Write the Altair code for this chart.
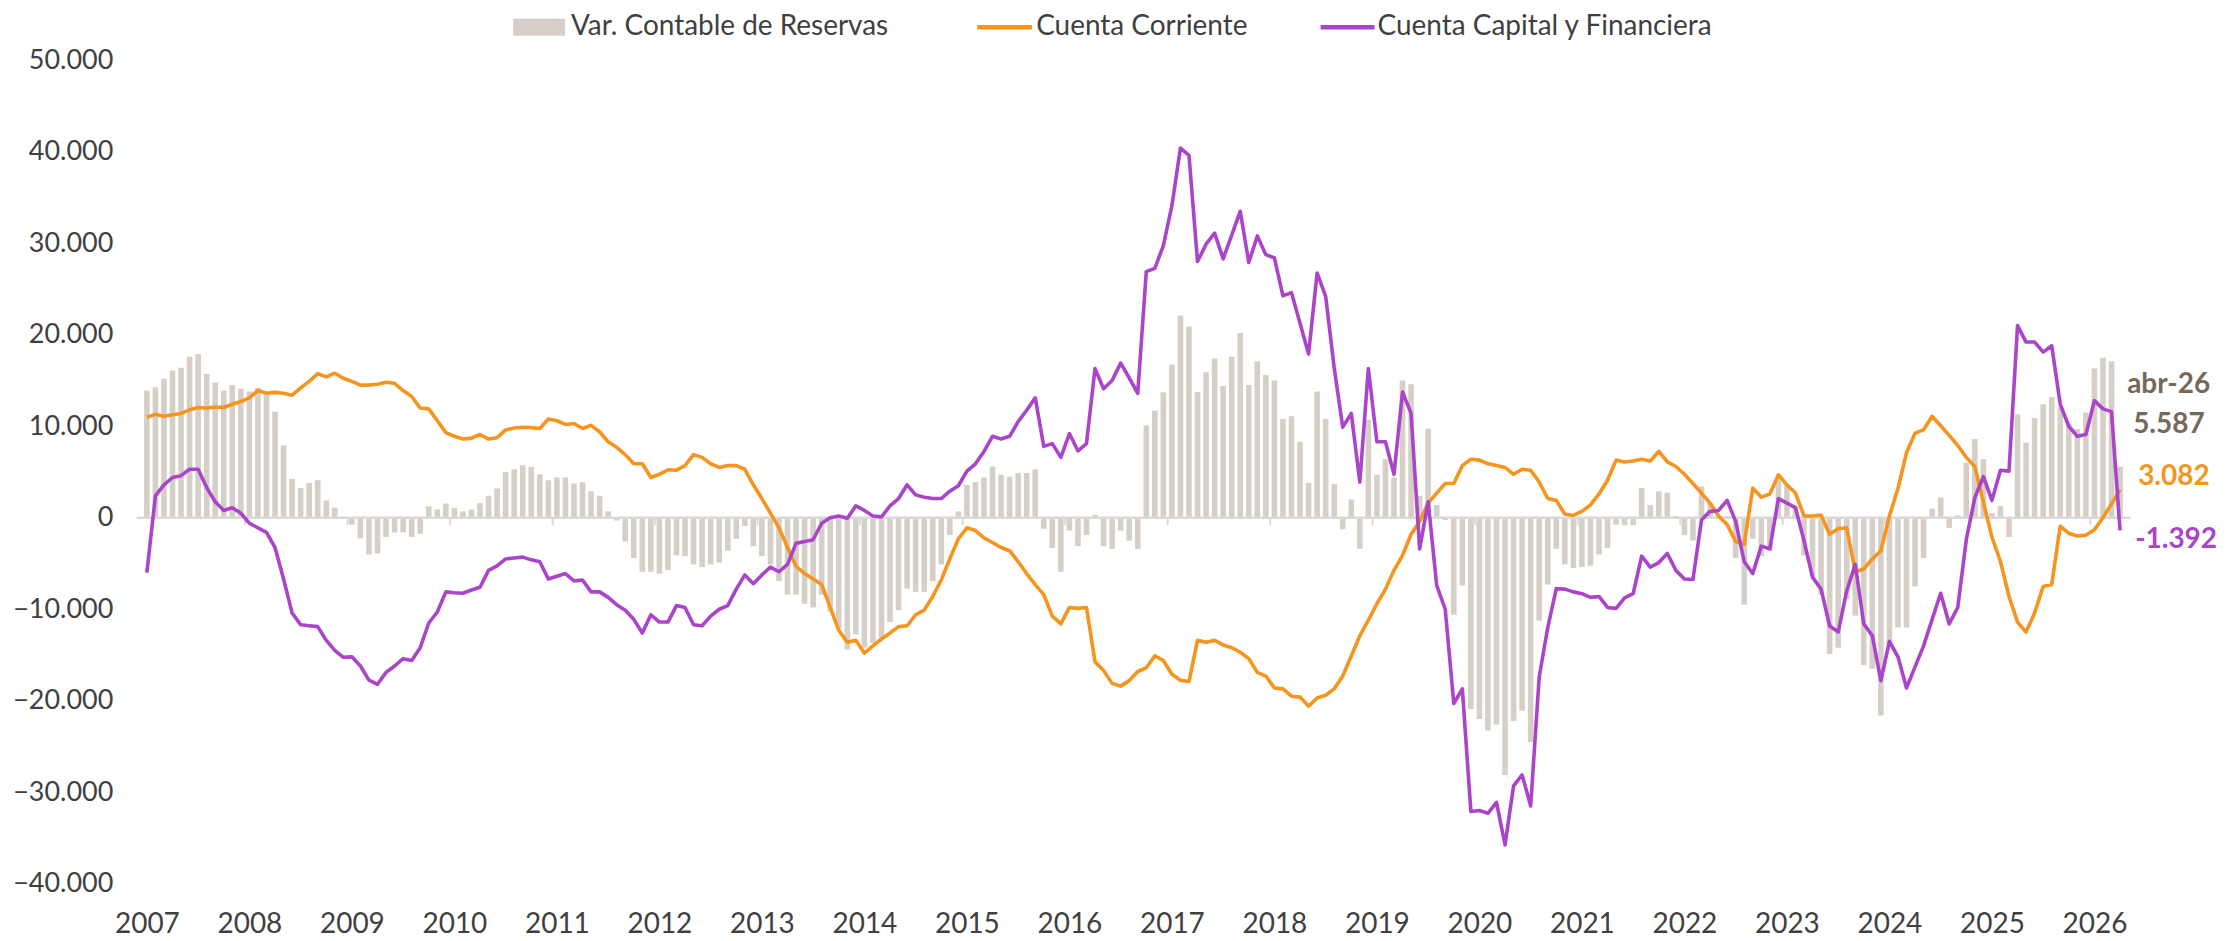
import altair as alt
import pandas as pd

# ---------------- data (USD millions, read in thousands) ----------------
UNIT = 1000
FIRST_YEAR = 2007
LAST_LABEL = "abr-26"
YEARS = list(range(2007, 2027))

SERIES_NAMES = ["Var. Contable de Reservas", "Cuenta Corriente", "Cuenta Capital y Financiera"]

reservas_k = [
    13.9, 14.25, 15.2, 16.1, 16.4, 17.6, 17.9, 15.7, 14.75, 13.9, 14.5, 14.1,
    13.8, 14.2, 13.5, 11.6, 7.9, 4.25, 3.25, 3.8, 4.1, 1.9, 1.1, 0.1,
    -0.75, -2.25, -4.0, -3.9, -2.1, -1.6, -1.6, -2.1, -1.75, 1.25, 0.9, 1.55,
    1.05, 0.7, 0.9, 1.6, 2.4, 3.2, 5.0, 5.3, 5.75, 5.55, 4.75, 4.1,
    4.4, 4.4, 3.75, 3.9, 2.9, 2.4, 0.7, -0.3, -2.6, -4.4, -5.9, -5.9,
    -6.1, -5.7, -4.1, -4.2, -5.1, -5.4, -5.1, -4.9, -3.6, -2.3, -0.9, -3.1,
    -4.2, -5.1, -6.9, -8.4, -8.4, -9.4, -9.8, -8.4, -10.25, -12.1, -14.4, -12.75,
    -14.2, -13.7, -13.1, -11.4, -10.1, -7.75, -8.1, -8.1, -6.9, -5.1, -1.9, 0.7,
    3.6, 3.9, 4.4, 5.6, 4.7, 4.5, 4.9, 4.9, 5.3, -1.2, -3.3, -5.9,
    -1.4, -3.1, -1.9, 0.3, -3.1, -3.4, -1.4, -2.5, -3.4, 10.1, 11.7, 13.7,
    16.75, 22.1, 20.9, 13.75, 15.9, 17.4, 14.4, 17.6, 20.2, 14.5, 17.1, 15.6,
    15.0, 10.8, 11.1, 8.3, 3.8, 13.8, 10.8, 3.7, -1.25, 2.0, -3.4, 10.7,
    4.7, 6.4, 4.4, 15.0, 14.6, 2.4, 9.75, 1.4, -0.25, -10.6, -7.4, -20.9,
    -22.0, -23.25, -22.6, -28.1, -22.2, -21.1, -24.5, -11.25, -7.3, -3.4, -5.1, -5.5,
    -5.4, -5.25, -4.0, -3.3, -0.75, -0.8, -0.8, 3.25, 1.4, 2.9, 2.75, 0.2,
    -1.9, -2.5, 3.4, 1.6, 0.2, 0.2, -4.4, -9.5, -2.3, -4.2, -3.6, 4.25,
    3.6, 1.25, -4.1, -6.4, -8.4, -14.9, -14.2, -8.9, -10.7, -16.1, -16.5, -21.6,
    -13.8, -12.0, -12.0, -7.5, -4.4, 1.0, 2.2, -1.1, 0.25, 6.0, 8.6, 6.4,
    0.5, 1.3, -2.1, 11.3, 8.2, 10.9, 12.4, 13.2, 12.0, 10.3, 9.7, 11.5,
    16.3, 17.5, 17.1, 5.587,
]

cuenta_corriente_k = [
    11.0, 11.3, 11.1, 11.25, 11.4, 11.8, 12.05, 12.0, 12.1, 12.05, 12.4, 12.7,
    13.1, 13.9, 13.6, 13.7, 13.6, 13.4, 14.2, 14.9, 15.75, 15.4, 15.8, 15.25,
    14.9, 14.5, 14.5, 14.6, 14.8, 14.7, 13.9, 13.25, 12.0, 11.9, 10.6, 9.3,
    8.9, 8.6, 8.7, 9.1, 8.6, 8.75, 9.6, 9.8, 9.9, 9.85, 9.75, 10.8,
    10.6, 10.2, 10.3, 9.75, 10.1, 9.4, 8.3, 7.7, 6.9, 5.9, 5.9, 4.4,
    4.75, 5.25, 5.2, 5.7, 6.9, 6.6, 5.9, 5.5, 5.7, 5.7, 5.3, 3.6,
    2.1, 0.5, -1.1, -3.25, -5.3, -6.1, -6.7, -7.3, -9.8, -12.3, -13.6, -13.4,
    -14.8, -14.0, -13.25, -12.6, -11.9, -11.8, -10.6, -10.1, -8.6, -6.8, -4.5, -2.3,
    -1.1, -1.4, -2.2, -2.7, -3.25, -3.6, -4.8, -6.1, -7.3, -8.4, -10.75, -11.6,
    -9.8, -9.9, -9.8, -15.75, -16.7, -18.1, -18.4, -17.8, -16.8, -16.4, -15.1, -15.6,
    -17.1, -17.75, -17.9, -13.4, -13.6, -13.4, -13.9, -14.2, -14.7, -15.4, -16.9, -17.3,
    -18.6, -18.7, -19.5, -19.6, -20.6, -19.7, -19.4, -18.7, -17.3, -15.1, -12.9, -11.2,
    -9.4, -7.8, -5.75, -4.1, -1.8, -0.4, 1.6, 2.7, 3.75, 3.75, 5.7, 6.4,
    6.3, 5.9, 5.7, 5.5, 4.75, 5.3, 5.2, 3.9, 2.1, 1.9, 0.4, 0.25,
    0.7, 1.4, 2.6, 4.1, 6.3, 6.1, 6.2, 6.4, 6.2, 7.25, 6.1, 5.6,
    4.75, 3.75, 2.7, 1.6, 0.2, -0.75, -2.6, -2.9, 3.25, 2.25, 2.6, 4.7,
    3.6, 2.7, 0.2, 0.2, 0.3, -1.8, -1.2, -1.1, -5.9, -5.6, -4.5, -3.6,
    0.2, 3.2, 7.1, 9.25, 9.6, 11.1, 10.05, 9.0, 7.9, 6.6, 5.6, 1.7,
    -2.1, -4.8, -8.6, -11.4, -12.5, -10.4, -7.5, -7.3, -0.9, -1.7, -2.0, -1.9,
    -1.3, 0.0, 1.5, 3.082,
]

cuenta_capital_k = [
    -6.0, 2.4, 3.6, 4.4, 4.6, 5.3, 5.3, 3.3, 1.75, 0.8, 1.1, 0.5,
    -0.6, -1.1, -1.6, -3.25, -6.7, -10.4, -11.7, -11.8, -11.9, -13.4, -14.5, -15.25,
    -15.2, -16.2, -17.75, -18.2, -16.9, -16.2, -15.4, -15.6, -14.2, -11.5, -10.3, -8.1,
    -8.2, -8.25, -7.9, -7.6, -5.75, -5.25, -4.5, -4.4, -4.3, -4.6, -4.8, -6.7,
    -6.4, -6.1, -6.9, -6.8, -8.1, -8.1, -8.7, -9.5, -10.1, -11.1, -12.6, -10.6,
    -11.4, -11.4, -9.6, -9.8, -11.7, -11.8, -10.75, -10.0, -9.6, -7.8, -6.25, -7.2,
    -6.25, -5.4, -5.9, -5.1, -2.8, -2.6, -2.4, -0.6, 0.0, 0.2, -0.05, 1.3,
    0.8, 0.2, 0.1, 1.3, 2.1, 3.6, 2.5, 2.25, 2.1, 2.1, 2.9, 3.5,
    5.1, 5.9, 7.25, 8.9, 8.6, 8.9, 10.5, 11.75, 13.1, 7.8, 8.1, 6.6,
    9.2, 7.3, 8.1, 16.3, 14.1, 15.0, 16.9, 15.3, 13.6, 26.9, 27.25, 29.75,
    34.1, 40.4, 39.6, 28.0, 29.9, 31.1, 28.3, 30.9, 33.5, 27.9, 30.8, 28.75,
    28.4, 24.25, 24.6, 21.25, 17.9, 26.75, 24.2, 16.4, 9.9, 11.4, 3.9, 16.3,
    8.3, 8.3, 4.75, 13.75, 11.4, -3.4, 1.75, -7.4, -10.0, -20.3, -18.7, -32.1,
    -32.0, -32.3, -31.1, -35.75, -29.3, -28.1, -31.5, -17.4, -12.0, -7.75, -7.8, -8.1,
    -8.3, -8.7, -8.6, -9.8, -9.9, -8.75, -8.3, -4.2, -5.4, -4.9, -3.9, -5.75,
    -6.7, -6.75, -0.25, 0.7, 0.8, 1.9, -0.4, -4.8, -6.1, -3.1, -3.4, 2.1,
    1.6, 1.1, -2.5, -6.5, -7.8, -11.8, -12.5, -8.0, -5.1, -11.6, -12.9, -17.8,
    -13.5, -15.2, -18.6, -16.3, -14.0, -11.1, -8.25, -11.6, -9.8, -2.4, 2.2, 4.5,
    1.9, 5.2, 5.1, 21.0, 19.2, 19.2, 18.1, 18.8, 12.4, 10.0, 8.9, 9.1,
    12.8, 11.9, 11.6, -1.392,
]

Y_TICKS = [-40000, -30000, -20000, -10000, 0, 10000, 20000, 30000, 40000, 50000]

# ---------------- styling ----------------
FONT = "Lato"
BAR_COLOR = "#D6CFC7"
ORANGE = "#F7941D"
PURPLE = "#AA44C8"
TEXT_COLOR = "#404040"
LABEL_BROWN = "#74695A"
AXIS_GRAY = "#D9D9D9"

PLOT_W = 1997
PLOT_H = 825

n = len(reservas_k)
df = pd.DataFrame({
    "idx": list(range(n)),
    "reservas": [v * UNIT for v in reservas_k],
    "cc": [v * UNIT for v in cuenta_corriente_k],
    "ccf": [v * UNIT for v in cuenta_capital_k],
})

year_idx = [(y - FIRST_YEAR) * 12 for y in YEARS]
boundaries = pd.DataFrame({"b": [i - 0.5 for i in year_idx[1:]]})

xscale = alt.Scale(domain=[-0.6, n - 1 + 0.6], nice=False, zero=False)
yscale = alt.Scale(domain=[Y_TICKS[0], Y_TICKS[-1]], nice=False)

x_axis = alt.Axis(
    values=year_idx,
    labelExpr=f"'' + ({FIRST_YEAR} + datum.value / 12)",
    title=None, ticks=False, tickSize=0, domain=False, grid=False,
    labelFont=FONT, labelFontSize=28, labelColor=TEXT_COLOR,
    labelPadding=27, labelFlush=False, labelOverlap=False,
)
y_axis = alt.Axis(
    values=Y_TICKS,
    labelExpr="replace(format(datum.value, ',d'), ',', '.')",
    title=None, ticks=False, tickSize=0, domain=False, grid=False,
    labelFont=FONT, labelFontSize=27, labelColor=TEXT_COLOR,
    labelPadding=24, labelFlush=False,
)

X = alt.X("idx:Q", scale=xscale, axis=x_axis)

base = alt.Chart(df)

bars = base.mark_bar(size=5.6, color=BAR_COLOR).encode(
    x=X, y=alt.Y("reservas:Q", scale=yscale, axis=y_axis)
)

zero_line = alt.Chart(pd.DataFrame({"z": [0]})).mark_rule(
    color=AXIS_GRAY, strokeWidth=2.5
).encode(y=alt.Y("z:Q", scale=yscale, axis=y_axis))

year_ticks = alt.Chart(boundaries).mark_rule(color=AXIS_GRAY, strokeWidth=2).encode(
    x=alt.X("b:Q", scale=xscale, axis=x_axis),
    y=alt.datum(0),
    y2=alt.datum(-800),
)

line_cc = base.mark_line(color=ORANGE, strokeWidth=3.6, strokeJoin="round").encode(
    x=X, y=alt.Y("cc:Q", scale=yscale, axis=y_axis)
)
line_ccf = base.mark_line(color=PURPLE, strokeWidth=3.6, strokeJoin="round").encode(
    x=X, y=alt.Y("ccf:Q", scale=yscale, axis=y_axis)
)

# ---------------- legend (top) ----------------
one = pd.DataFrame({"a": [0]})
LEG_Y = -33
leg_rect = alt.Chart(one).mark_rect(color=BAR_COLOR).encode(
    x=alt.value(377), x2=alt.value(429), y=alt.value(LEG_Y - 8.5), y2=alt.value(LEG_Y + 8.5)
)
leg_cc = alt.Chart(one).mark_rule(color=ORANGE, strokeWidth=4.5).encode(
    x=alt.value(842), x2=alt.value(897), y=alt.value(LEG_Y)
)
leg_ccf = alt.Chart(one).mark_rule(color=PURPLE, strokeWidth=4.5).encode(
    x=alt.value(1186), x2=alt.value(1240), y=alt.value(LEG_Y)
)
leg_text_x = [435, 901, 1243]
leg_texts = [
    alt.Chart(one).mark_text(
        align="left", baseline="middle", font=FONT, fontSize=28, color=TEXT_COLOR
    ).encode(x=alt.value(tx), y=alt.value(LEG_Y), text=alt.value(name))
    for tx, name in zip(leg_text_x, SERIES_NAMES)
]

# ---------------- end labels ----------------
def fmt(v):
    s = f"{v * UNIT:,.0f}"
    return s.replace(",", ".")

end_labels = [
    (LAST_LABEL, 1994, 333, LABEL_BROWN),
    (fmt(reservas_k[-1]), 2000, 373, LABEL_BROWN),
    (fmt(cuenta_corriente_k[-1]), 2005, 426, ORANGE),
    (fmt(cuenta_capital_k[-1]), 2002, 489, PURPLE),
]
end_marks = [
    alt.Chart(one).mark_text(
        align="left", baseline="alphabetic", font=FONT, fontSize=28,
        fontWeight="bold", color=col
    ).encode(x=alt.value(px), y=alt.value(py), text=alt.value(txt))
    for txt, px, py, col in end_labels
]

chart = alt.layer(
    bars, zero_line, year_ticks, line_cc, line_ccf,
    leg_rect, leg_cc, leg_ccf, *leg_texts, *end_marks,
).properties(
    width=PLOT_W, height=PLOT_H,
    autosize=alt.AutoSizeParams(type="none"),
    padding={"left": 129, "top": 51.5, "right": 92, "bottom": 60},
    background="white",
).configure_view(stroke=None)

chart.save("out.html", embed_options={"renderer": "svg", "actions": False})
